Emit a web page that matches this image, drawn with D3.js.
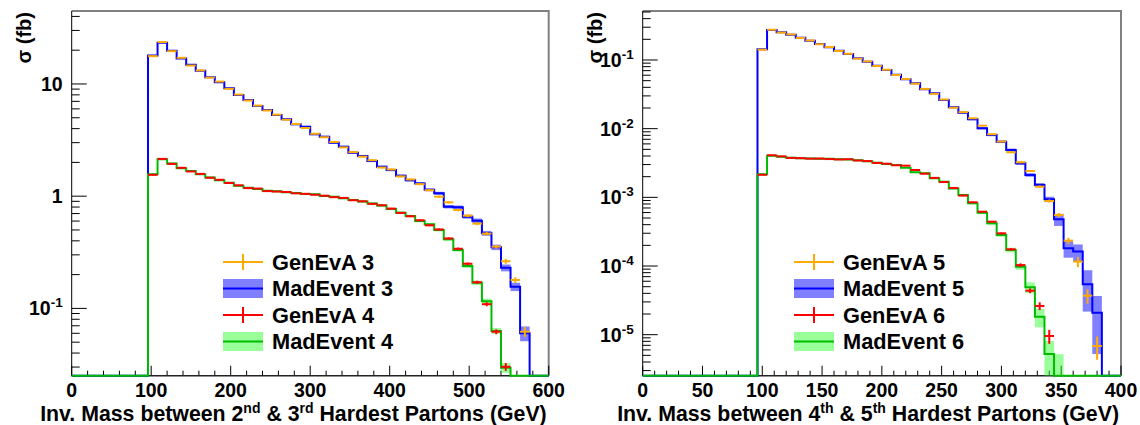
<!DOCTYPE html>
<html>
<head>
<meta charset="utf-8">
<script src="https://cdn.jsdelivr.net/npm/d3@7"></script>
<style>
  body { margin: 0; background: #fff; }
  svg { display: block; font-family: "Liberation Sans", Arial, Helvetica, sans-serif; font-weight: bold; }
</style>
</head>
<body>
<div id="chart"></div>
<script>
// ---- data: both panels start at 96 GeV, 12 GeV bins (left) and 8 GeV bins (right)
var firstEdge = 96;
var widthLeft = 12, widthRight = 8;

// left panel : 2nd & 3rd hardest partons
var madEvent3 = [17.9, 23.3, 19.8, 16.9, 14.8, 13.1, 11.5, 10.35, 9.16, 7.98, 7.20, 6.37, 5.87, 5.29, 4.85, 4.37,
  4.16, 3.56, 3.39, 3.00, 2.76, 2.44, 2.28, 2.06, 1.83, 1.71, 1.52, 1.39, 1.30, 1.14, 1.06, 0.806, 0.796, 0.657,
  0.605, 0.467, 0.350, 0.230, 0.156, 0.060];
var madEvent3Err = [0.012, 0.01, 0.01, 0.01, 0.012, 0.012, 0.012, 0.013, 0.013, 0.014, 0.014, 0.015, 0.015, 0.016,
  0.016, 0.017, 0.018, 0.018, 0.019, 0.02, 0.02, 0.021, 0.022, 0.023, 0.024, 0.025, 0.026, 0.027, 0.028, 0.03,
  0.032, 0.035, 0.038, 0.04, 0.045, 0.05, 0.055, 0.07, 0.085, 0.15];
var genEvA3 = [17.7, 23.6, 19.6, 17.1, 14.6, 13.2, 11.4, 10.5, 9.05, 8.05, 7.12, 6.42, 5.80, 5.33, 4.80, 4.40, 4.05,
  3.60, 3.35, 3.04, 2.72, 2.47, 2.25, 2.09, 1.80, 1.73, 1.50, 1.41, 1.28, 1.13, 0.99, 0.882, 0.753, 0.670, 0.569,
  0.463, 0.355, 0.263, 0.179, 0.062];
var genEvA3Err = [0.006, 0.005, 0.005, 0.005, 0.006, 0.006, 0.006, 0.007, 0.007, 0.007, 0.008, 0.008, 0.008, 0.009,
  0.009, 0.01, 0.01, 0.011, 0.011, 0.012, 0.012, 0.013, 0.013, 0.014, 0.015, 0.016, 0.017, 0.018, 0.019, 0.02,
  0.022, 0.024, 0.026, 0.028, 0.03, 0.034, 0.04, 0.05, 0.06, 0.1];
var madEvent4 = [1.567, 2.13, 1.96, 1.77, 1.68, 1.57, 1.47, 1.39, 1.32, 1.24, 1.19, 1.16, 1.12, 1.105, 1.083, 1.068,
  1.046, 1.04, 1.004, 0.99, 0.958, 0.925, 0.897, 0.861, 0.826, 0.769, 0.713, 0.666, 0.601, 0.562, 0.500, 0.413,
  0.332, 0.239, 0.169, 0.116, 0.063, 0.0296];
var madEvent4Err = [0.015, 0.012, 0.012, 0.012, 0.012, 0.013, 0.013, 0.013, 0.014, 0.014, 0.014, 0.015, 0.015, 0.015,
  0.016, 0.016, 0.017, 0.017, 0.018, 0.018, 0.019, 0.019, 0.02, 0.021, 0.022, 0.023, 0.024, 0.025, 0.027, 0.028,
  0.03, 0.032, 0.035, 0.04, 0.045, 0.05, 0.06, 0.1];
var genEvA4 = [1.55, 2.15, 1.94, 1.79, 1.66, 1.58, 1.46, 1.40, 1.31, 1.25, 1.18, 1.17, 1.11, 1.10, 1.09, 1.06, 1.05,
  1.03, 1.01, 0.98, 0.965, 0.92, 0.90, 0.855, 0.83, 0.775, 0.71, 0.662, 0.61, 0.55, 0.505, 0.42, 0.34, 0.25, 0.171,
  0.109, 0.062, 0.0302];
var genEvA4Err = [0.008, 0.006, 0.006, 0.006, 0.006, 0.007, 0.007, 0.007, 0.007, 0.008, 0.008, 0.008, 0.008, 0.009,
  0.009, 0.009, 0.01, 0.01, 0.01, 0.011, 0.011, 0.012, 0.012, 0.013, 0.013, 0.014, 0.015, 0.016, 0.017, 0.018,
  0.02, 0.022, 0.025, 0.028, 0.032, 0.04, 0.05, 0.08];

// right panel : 4th & 5th hardest partons
var madEvent5 = [0.1432, 0.2735, 0.2532, 0.2335, 0.2113, 0.1910, 0.1710, 0.1531, 0.1366, 0.1223, 0.1059, 0.0945,
  0.0826, 0.0715, 0.0611, 0.0524, 0.0458, 0.0374, 0.0327, 0.0262, 0.0205, 0.0171, 0.0137, 0.0101, 0.00809,
  0.00646, 0.00489, 0.00313, 0.00212, 0.00151, 0.000936, 0.000479, 0.000181, 0.000162, 5.42e-5, 2.09e-5];
var madEvent5Err = [0.01, 0.01, 0.01, 0.01, 0.01, 0.01, 0.012, 0.012, 0.013, 0.013, 0.014, 0.015, 0.016, 0.017,
  0.018, 0.019, 0.02, 0.022, 0.024, 0.026, 0.028, 0.03, 0.033, 0.036, 0.04, 0.045, 0.05, 0.055, 0.06, 0.07, 0.09,
  0.2, 0.27, 0.27, 0.6, 0.75];
var genEvA5 = [0.1415, 0.276, 0.251, 0.2355, 0.2095, 0.1925, 0.1695, 0.1545, 0.1355, 0.1232, 0.1048, 0.0953,
  0.0818, 0.0722, 0.0605, 0.0530, 0.0452, 0.0379, 0.0322, 0.0266, 0.0202, 0.0174, 0.01416, 0.01105, 0.00828,
  0.00650, 0.00453, 0.00324, 0.00242, 0.00143, 0.000885, 0.000553, 0.000234, 0.000116, 3.70e-5, 6.84e-6];
var genEvA5Err = [0.005, 0.004, 0.004, 0.004, 0.005, 0.005, 0.005, 0.005, 0.006, 0.006, 0.006, 0.007, 0.007, 0.008,
  0.008, 0.009, 0.009, 0.01, 0.011, 0.012, 0.013, 0.014, 0.016, 0.018, 0.02, 0.022, 0.025, 0.028, 0.032, 0.04,
  0.05, 0.07, 0.1, 0.17, 0.24, 0.37];
var madEvent6 = [0.002166, 0.00404, 0.00391, 0.00378, 0.00370, 0.00368, 0.00365, 0.00364, 0.00358, 0.00357, 0.00346,
  0.00335, 0.00319, 0.00306, 0.00296, 0.00270, 0.00231, 0.00224, 0.00189, 0.00169, 0.00135, 0.00108, 0.000819,
  0.000597, 0.000419, 0.000283, 0.000171, 9.77e-5, 4.9e-5, 1.83e-5, 5.23e-6, 2.0e-6];
var madEvent6Err = [0.015, 0.012, 0.012, 0.012, 0.012, 0.012, 0.013, 0.013, 0.013, 0.014, 0.014, 0.015, 0.016,
  0.017, 0.018, 0.02, 0.022, 0.024, 0.026, 0.028, 0.03, 0.033, 0.036, 0.04, 0.05, 0.06, 0.08, 0.1, 0.18, 0.3,
  0.55, 1.6];
var genEvA6 = [0.00213, 0.0041, 0.00395, 0.00375, 0.00372, 0.00366, 0.00367, 0.00361, 0.00356, 0.00359, 0.00344,
  0.00337, 0.00317, 0.00309, 0.00293, 0.00289, 0.00250, 0.00221, 0.00192, 0.00167, 0.00137, 0.00106, 0.000847,
  0.000618, 0.000442, 0.000299, 0.000175, 0.000103, 4.37e-5, 2.62e-5, 9.57e-6];
var genEvA6Err = [0.008, 0.006, 0.006, 0.006, 0.006, 0.006, 0.007, 0.007, 0.007, 0.007, 0.008, 0.008, 0.008, 0.009,
  0.009, 0.01, 0.011, 0.012, 0.013, 0.014, 0.015, 0.017, 0.019, 0.022, 0.026, 0.032, 0.04, 0.06, 0.08, 0.13, 0.23];

// axis ticks and labels
var leftYTicks = [0.1, 1, 10];
var leftYLabels = [["10", "-1"], ["1"], ["10"]];
var rightYTicks = [1e-5, 1e-4, 1e-3, 1e-2, 1e-1];
var rightYLabels = [["10", "-5"], ["10", "-4"], ["10", "-3"], ["10", "-2"], ["10", "-1"]];
var leftTitle = [["Inv. Mass between 2"], ["nd", 1], [" & 3"], ["rd", 1], [" Hardest Partons (GeV)"]];
var rightTitle = [["Inv. Mass between 4"], ["th", 1], [" & 5"], ["th", 1], [" Hardest Partons (GeV)"]];
var legendLeft = ["GenEvA 3", "MadEvent 3", "GenEvA 4", "MadEvent 4"];
var legendRight = ["GenEvA 5", "MadEvent 5", "GenEvA 6", "MadEvent 6"];

var colOrange = "#ffaa00", colBlue = "#0000ff", colBand1 = "rgba(0,0,255,0.5)",
    colRed = "#ff0000", colGreen = "#00bb00", colBand2 = "rgba(51,255,51,0.5)";

var svg = d3.select("#chart")
  .append("svg")
  .attr("width", 1140)
  .attr("height", 425);

svg.append("rect").attr("width", 1140).attr("height", 425).attr("fill", "#fff");

function drawPanel(p) {
  var g = svg.append("g");
  var x = d3.scaleLinear().domain([0, p.xMax]).range([p.left, p.right]);
  var y = d3.scaleLog().domain([p.yMin, p.yMax]).range([p.bottom, p.top]).clamp(true);
  var yc = function(v) { return y(Math.max(v, p.yMin)); };
  var edge = function(i) { return firstEdge + i * p.binW; };

  // frame
  g.append("path")
    .attr("d", "M" + p.left + "," + p.top + "H" + p.right + "V" + p.bottom)
    .attr("fill", "none").attr("stroke", "#808080").attr("stroke-width", 2);

  // x axis ticks
  var xMinor = d3.range(0, p.xMax + 0.001, p.xMinor);
  g.selectAll(".xt").data(xMinor).enter().append("line")
    .attr("x1", function(d) { return x(d); }).attr("x2", function(d) { return x(d); })
    .attr("y1", p.bottom)
    .attr("y2", function(d) { return p.bottom - (Math.abs(d % p.xMajor) < 0.001 ? 10 : 5); })
    .attr("stroke", "#000").attr("stroke-width", 1);
  g.selectAll(".xl").data(d3.range(0, p.xMax + 0.001, p.xMajor)).enter().append("text")
    .attr("x", function(d) { return x(d); }).attr("y", 397)
    .attr("text-anchor", "middle").attr("font-size", 19.5)
    .text(function(d) { return d; });

  // y axis ticks (log)
  var yMinor = [];
  for (var e = Math.floor(Math.log10(p.yMin)); e <= Math.ceil(Math.log10(p.yMax)); e++) {
    for (var k = 1; k <= 9; k++) {
      var v = k * Math.pow(10, e);
      if (v >= p.yMin && v <= p.yMax) yMinor.push({v: v, major: k === 1});
    }
  }
  g.selectAll(".yt").data(yMinor).enter().append("line")
    .attr("x1", p.left).attr("x2", function(d) { return p.left + (d.major ? 15 : 8); })
    .attr("y1", function(d) { return y(d.v); }).attr("y2", function(d) { return y(d.v); })
    .attr("stroke", "#000").attr("stroke-width", 1);
  var yl = g.selectAll(".yl").data(p.yTicks).enter().append("text")
    .attr("x", p.left - 9).attr("y", function(d) { return y(d) + 7; })
    .attr("text-anchor", "end").attr("font-size", 19.5);
  yl.each(function(d, i) {
    var t = d3.select(this), lab = p.yLabels[i];
    t.append("tspan").text(lab[0]);
    if (lab[1]) t.append("tspan").attr("font-size", 13.5).attr("dy", -8).text(lab[1]);
  });

  // axis lines
  g.append("line").attr("x1", p.left).attr("x2", p.left).attr("y1", p.top).attr("y2", p.bottom)
    .attr("stroke", "#000").attr("stroke-width", 1);
  g.append("line").attr("x1", p.left).attr("x2", p.right).attr("y1", p.bottom).attr("y2", p.bottom)
    .attr("stroke", "#222").attr("stroke-width", 1.5);

  // axis titles
  var xt = g.append("text").attr("x", p.right - 2).attr("y", 421)
    .attr("text-anchor", "end").attr("font-size", 21.3);
  p.xTitle.forEach(function(part) {
    var ts = xt.append("tspan").text(part[0]);
    if (part[1]) ts.attr("font-size", 14).attr("dy", -8);
    else if (part[0].charAt(0) === " ") ts.attr("dy", 8);
  });
  g.append("text")
    .attr("transform", "translate(" + (p.left - 41) + "," + (p.top + 1) + ") rotate(-90)")
    .attr("text-anchor", "end").attr("font-size", 20)
    .text("\u03c3 (fb)");

  // MadEvent bands
  p.series.forEach(function(s) {
    g.selectAll(null).data(s.mad).enter().append("rect")
      .attr("x", function(d, i) { return x(edge(i)); })
      .attr("width", function(d, i) { return x(edge(i + 1)) - x(edge(i)); })
      .attr("y", function(d, i) { return yc(d * (1 + s.madErr[i])); })
      .attr("height", function(d, i) { return yc(d * (1 - s.madErr[i])) - yc(d * (1 + s.madErr[i])); })
      .attr("fill", s.band);
  });

  // MadEvent histogram lines
  var line = d3.line().curve(d3.curveStepAfter)
    .x(function(d) { return x(d[0]); })
    .y(function(d) { return yc(d[1]); });
  p.series.forEach(function(s) {
    var pts = [[0, p.yMin]];
    s.mad.forEach(function(v, i) { pts.push([edge(i), v]); });
    pts.push([edge(s.mad.length), p.yMin]);
    pts.push([p.xMax, p.yMin]);
    g.append("path").attr("d", line(pts))
      .attr("fill", "none").attr("stroke", s.line).attr("stroke-width", 2);
  });

  // GenEvA points with error bars
  p.series.forEach(function(s) {
    var gg = g.append("g").attr("stroke", s.gen).attr("stroke-width", 2);
    s.genv.forEach(function(v, i) {
      var cx = x(edge(i) + p.binW / 2);
      gg.append("line").attr("x1", x(edge(i))).attr("x2", x(edge(i + 1)))
        .attr("y1", yc(v)).attr("y2", yc(v));
      gg.append("line").attr("x1", cx).attr("x2", cx)
        .attr("y1", yc(v * (1 + s.genErr[i]))).attr("y2", yc(v * (1 - s.genErr[i])));
    });
  });

  // legend
  var rows = [262, 288.5, 315, 341.5];
  var lg = g.append("g");
  p.legend.forEach(function(name, i) {
    var ry = rows[i], s = p.series[i >> 1];
    if (i % 2 === 0) {
      lg.append("line").attr("x1", p.legX).attr("x2", p.legX + 40).attr("y1", ry).attr("y2", ry)
        .attr("stroke", s.gen).attr("stroke-width", 2);
      lg.append("line").attr("x1", p.legX + 20).attr("x2", p.legX + 20).attr("y1", ry - 8).attr("y2", ry + 8)
        .attr("stroke", s.gen).attr("stroke-width", 2);
    } else {
      lg.append("rect").attr("x", p.legX).attr("y", ry - 9.5).attr("width", 40).attr("height", 19)
        .attr("fill", s.band);
      lg.append("line").attr("x1", p.legX).attr("x2", p.legX + 40).attr("y1", ry).attr("y2", ry)
        .attr("stroke", s.line).attr("stroke-width", 2);
    }
    lg.append("text").attr("x", p.legX + 49).attr("y", ry + 7.5).attr("font-size", 21.8).text(name);
  });
}

drawPanel({
  left: 71.7, right: 548.7, top: 11, bottom: 375.7,
  xMax: 600, xMajor: 100, xMinor: 20, binW: widthLeft,
  yMin: 0.02513, yMax: 44.7, yTicks: leftYTicks, yLabels: leftYLabels,
  xTitle: leftTitle, legend: legendLeft, legX: 223,
  series: [
    {mad: madEvent3, madErr: madEvent3Err, genv: genEvA3, genErr: genEvA3Err, line: colBlue, band: colBand1, gen: colOrange},
    {mad: madEvent4, madErr: madEvent4Err, genv: genEvA4, genErr: genEvA4Err, line: colGreen, band: colBand2, gen: colRed}
  ]
});

drawPanel({
  left: 642.7, right: 1121, top: 11, bottom: 375.7,
  xMax: 400, xMajor: 50, xMinor: 10, binW: widthRight,
  yMin: 2.527e-6, yMax: 0.517, yTicks: rightYTicks, yLabels: rightYLabels,
  xTitle: rightTitle, legend: legendRight, legX: 794,
  series: [
    {mad: madEvent5, madErr: madEvent5Err, genv: genEvA5, genErr: genEvA5Err, line: colBlue, band: colBand1, gen: colOrange},
    {mad: madEvent6, madErr: madEvent6Err, genv: genEvA6, genErr: genEvA6Err, line: colGreen, band: colBand2, gen: colRed}
  ]
});
</script>
</body>
</html>
